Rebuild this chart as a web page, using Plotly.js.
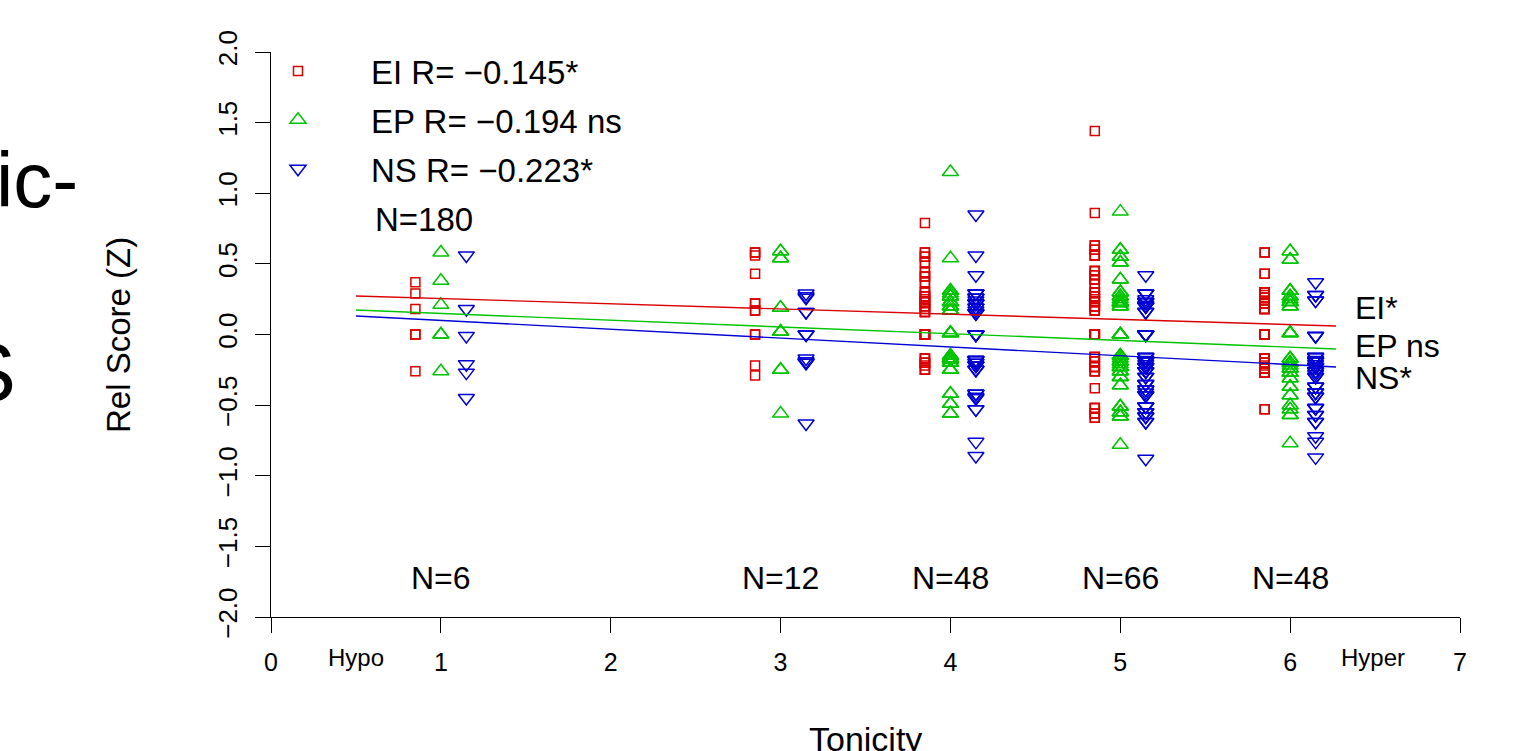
<!DOCTYPE html>
<html><head><meta charset="utf-8">
<script src="https://cdn.plot.ly/plotly-3.0.1.min.js"></script>
<style>html,body{margin:0;padding:0;background:#fff;overflow:hidden}</style>
</head><body><div id="chart" style="width:1520px;height:751px"></div>
<script>
// ---------- data ----------
const tonicity = [1, 3, 4, 5, 6];
const groupN = ['N=6', 'N=12', 'N=48', 'N=66', 'N=48'];
const totalN = 'N=180';

const ei_t1 = [0.37, 0.29, 0.18, 0.0, 0.0, -0.26];
const ei_t3 = [0.58, 0.58, 0.56, 0.43, 0.22, 0.22, 0.17, 0.17, 0.0, 0.0, -0.22, -0.29];
const ei_t4 = [0.79, 0.58, 0.58, 0.55, 0.55, 0.51, 0.51, 0.44, 0.44, 0.41, 0.41, 0.37, 0.37,
  0.30, 0.30, 0.30, 0.27, 0.27, 0.27, 0.23, 0.23, 0.23, 0.23, 0.20, 0.20, 0.20, 0.16, 0.16, 0.16,
  0.0, 0.0, 0.0, 0.0, 0.0, 0.0, 0.0, -0.17, -0.17, -0.17, -0.20, -0.20, -0.20, -0.25, -0.25, -0.25,
  -0.22, 0.25, 0.18];
const ei_t5 = [1.44, 0.86, 0.63, 0.63, 0.60, 0.60, 0.56, 0.56, 0.56, 0.45, 0.45, 0.45, 0.42, 0.42,
  0.39, 0.39, 0.39, 0.36, 0.36, 0.30, 0.30, 0.30, 0.30, 0.27, 0.27, 0.27, 0.27, 0.23, 0.23, 0.23, 0.23,
  0.20, 0.20, 0.20, 0.20, 0.17, 0.17, 0.17, 0.0, 0.0, 0.0, 0.0, 0.0, 0.0, 0.0,
  -0.16, -0.16, -0.16, -0.19, -0.19, -0.19, -0.23, -0.23, -0.23, -0.26, -0.26, -0.26,
  -0.38, -0.52, -0.52, -0.52, -0.56, -0.56, -0.59, -0.59, 0.25];
const ei_t6 = [0.58, 0.58, 0.43, 0.43, 0.30, 0.30, 0.30, 0.30, 0.26, 0.26, 0.26, 0.26,
  0.22, 0.22, 0.22, 0.22, 0.18, 0.18, 0.18, 0.18, 0.0, 0.0, 0.0, 0.0, 0.0, 0.0, 0.0,
  -0.17, -0.17, -0.17, -0.17, -0.20, -0.20, -0.20, -0.20, -0.24, -0.24, -0.24, -0.24,
  -0.27, -0.27, -0.27, -0.27, -0.53, -0.53, 0.24, -0.22, 0.28];

const ep_t1 = [0.58, 0.38, 0.21, 0.0, 0.0, -0.26];
const ep_t3 = [0.59, 0.59, 0.54, 0.54, 0.19, 0.19, 0.02, 0.02, 0.02, -0.25, -0.25, -0.56];
const ep_t4 = [1.15, 0.54, 0.31, 0.31, 0.31, 0.27, 0.27, 0.27, 0.27, 0.23, 0.23, 0.23, 0.23,
  0.20, 0.20, 0.20, 0.20, 0.17, 0.17, 0.17, 0.01, 0.01, 0.01, 0.01, 0.01, 0.01,
  -0.15, -0.15, -0.15, -0.17, -0.17, -0.17, -0.17, -0.20, -0.20, -0.20, -0.20, -0.25, -0.25, -0.25,
  -0.42, -0.42, -0.49, -0.49, -0.56, -0.56, 0.29, -0.18];
const ep_t5 = [0.87, 0.60, 0.60, 0.55, 0.55, 0.51, 0.51, 0.39, 0.39, 0.30, 0.30, 0.30, 0.30,
  0.27, 0.27, 0.27, 0.27, 0.23, 0.23, 0.23, 0.23, 0.23, 0.20, 0.20, 0.20, 0.20,
  0.0, 0.0, 0.0, 0.0, 0.0, 0.0, 0.0, -0.15, -0.15, -0.15, -0.15, -0.19, -0.19, -0.19, -0.19,
  -0.23, -0.23, -0.23, -0.23, -0.26, -0.26, -0.26, -0.30, -0.30, -0.30, -0.36, -0.36,
  -0.51, -0.51, -0.51, -0.55, -0.55, -0.55, -0.58, -0.58, -0.78, 0.25, -0.21, -0.17, 0.22];
const ep_t6 = [0.59, 0.59, 0.53, 0.53, 0.31, 0.31, 0.31, 0.27, 0.27, 0.27, 0.23, 0.23, 0.23,
  0.20, 0.20, 0.20, 0.01, 0.01, 0.01, 0.01, 0.01, -0.17, -0.17, -0.17, -0.20, -0.20, -0.20,
  -0.24, -0.24, -0.24, -0.27, -0.27, -0.27, -0.31, -0.31, -0.37, -0.37, -0.43, -0.43,
  -0.50, -0.50, -0.53, -0.53, -0.57, -0.57, -0.77, 0.25, -0.22];

const ns_t1 = [0.56, 0.18, -0.01, -0.21, -0.27, -0.45];
const ns_t3 = [0.29, 0.27, 0.26, 0.16, 0.16, 0.0, 0.0, -0.17, -0.19, -0.20, -0.20, -0.63];
const ns_t4 = [0.85, 0.56, 0.42, 0.29, 0.29, 0.29, 0.26, 0.26, 0.26, 0.22, 0.22, 0.22, 0.22,
  0.19, 0.19, 0.19, 0.15, 0.15, 0.15, 0.0, 0.0, 0.0, 0.0, 0.0,
  -0.18, -0.18, -0.18, -0.18, -0.22, -0.22, -0.22, -0.25, -0.25, -0.25,
  -0.42, -0.42, -0.42, -0.45, -0.45, -0.53, -0.53, -0.76, -0.86, 0.24, -0.20, -0.20, 0.17, -0.44];
const ns_t5 = [0.42, 0.29, 0.29, 0.29, 0.23, 0.23, 0.23, 0.23, 0.20, 0.20, 0.20, 0.20,
  0.16, 0.16, 0.16, 0.0, 0.0, 0.0, 0.0, 0.0, 0.0,
  -0.16, -0.16, -0.16, -0.16, -0.19, -0.19, -0.19, -0.19, -0.23, -0.23, -0.23, -0.23,
  -0.26, -0.26, -0.26, -0.26, -0.30, -0.30, -0.30, -0.35, -0.35, -0.35, -0.39, -0.39, -0.39,
  -0.43, -0.43, -0.43, -0.51, -0.51, -0.51, -0.55, -0.55, -0.55, -0.58, -0.58, -0.58,
  -0.62, -0.62, -0.88, 0.21, -0.18, -0.21, -0.41, 0.25];
const ns_t6 = [0.37, 0.28, 0.28, 0.24, 0.24, -0.01, -0.01, -0.01,
  -0.16, -0.16, -0.16, -0.16, -0.19, -0.19, -0.19, -0.19, -0.23, -0.23, -0.23, -0.23,
  -0.26, -0.26, -0.26, -0.30, -0.30, -0.30, -0.37, -0.37, -0.37, -0.41, -0.41, -0.41,
  -0.44, -0.44, -0.44, -0.52, -0.52, -0.52, -0.57, -0.57, -0.62, -0.62, -0.72, -0.76, -0.87,
  -0.21, -0.28, -0.18];

const seriesNames = ['EI R= \u22120.145*', 'EP R= \u22120.194 ns', 'NS R= \u22120.223*'];
const fitLabels = ['EI*', 'EP ns', 'NS*'];
const fitX = [0.5, 6.27];
const ei_fit = [0.273, 0.060];
const ep_fit = [0.173, -0.103];
const ns_fit = [0.131, -0.230];

const xTickVals = [0, 1, 2, 3, 4, 5, 6, 7];
const yTickVals = [-2, -1.5, -1, -0.5, 0, 0.5, 1, 1.5, 2];
const endLabels = ['Hypo', 'Hyper'];
const xTitle = 'Tonicity';
const yTitle = 'Rel Score (Z)';

// ---------- styling ----------
const FONT = 'Liberation Sans, Arial, Helvetica, sans-serif';
const NARROW = 'Liberation Sans Narrow, Arial Narrow, Liberation Sans, Arial, sans-serif';
const colors = ['#DA0000', '#00C400', '#0000D4'];
const symbols = ['square-open', 'triangle-up-open', 'triangle-down-open'];
const sizes = [9, 14, 14];
const offsets = [-0.15, 0, 0.15];

const seriesData = [
  [ei_t1, ei_t3, ei_t4, ei_t5, ei_t6],
  [ep_t1, ep_t3, ep_t4, ep_t5, ep_t6],
  [ns_t1, ns_t3, ns_t4, ns_t5, ns_t6]
];
const fits = [ei_fit, ep_fit, ns_fit];

const traces = [];
seriesData.forEach((groups, s) => {
  const xs = [], ys = [];
  groups.forEach((vals, g) => {
    vals.forEach(v => { xs.push(tonicity[g] + offsets[s]); ys.push(v); });
  });
  traces.push({
    type: 'scatter', mode: 'markers', x: xs, y: ys, name: seriesNames[s], legendgroup: 'g' + s,
    marker: { symbol: symbols[s], size: sizes[s], color: colors[s], line: { width: 1.5, color: colors[s] } },
    cliponaxis: false, hoverinfo: 'skip'
  });
});
fits.forEach((f, s) => {
  traces.push({
    type: 'scatter', mode: 'lines', x: fitX, y: f, showlegend: false, legendgroup: 'g' + s,
    line: { color: colors[s], width: 1.4 }, hoverinfo: 'skip'
  });
});

const px2x = px => (px - 271) / 1189;
const px2y = py => (617 - py) / 565;
const ann = (o) => Object.assign({ showarrow: false, xanchor: 'center', yanchor: 'middle' }, o);

const annotations = [];
tonicity.forEach((t, i) => annotations.push(ann({
  x: t, y: px2y(578), xref: 'x', yref: 'paper', text: groupN[i],
  font: { family: FONT, size: 32, color: '#000' }
})));
annotations.push(ann({ x: px2x(373), y: px2y(219), xref: 'paper', yref: 'paper',
  xanchor: 'left', text: totalN, font: { family: FONT, size: 33, color: '#000' } }));
const fitLabelY = [308, 346, 378];
fitLabels.forEach((t, i) => annotations.push(ann({
  x: px2x(1353), y: px2y(fitLabelY[i]), xref: 'paper', yref: 'paper',
  xanchor: 'left', text: t, font: { family: FONT, size: 32, color: '#000' }
})));
const endX = [0.5, 6.49];
endLabels.forEach((t, i) => annotations.push(ann({
  x: endX[i], y: px2y(657), xref: 'x', yref: 'paper', text: t,
  font: { family: NARROW, size: 24, color: '#000' }
})));
annotations.push(ann({ x: 0.5, y: px2y(718), xref: 'paper', yref: 'paper', yanchor: 'top',
  text: xTitle, font: { family: FONT, size: 34, color: '#000' } }));
annotations.push(ann({ x: px2x(118), y: px2y(335), xref: 'paper', yref: 'paper',
  textangle: -90, text: yTitle, font: { family: FONT, size: 33, color: '#000' } }));
// clipped slide text at the left edge
annotations.push(ann({ x: px2x(-6), y: px2y(180), xref: 'paper', yref: 'paper',
  xanchor: 'left', text: 'ic-', font: { family: FONT, size: 78, color: '#000' } }));
annotations.push(ann({ x: px2x(18), y: px2y(372), xref: 'paper', yref: 'paper',
  xanchor: 'right', text: 'S', font: { family: FONT, size: 84, color: '#000' } }));

const layout = {
  width: 1520, height: 751,
  margin: { l: 271, r: 60, t: 52, b: 134, pad: 0 },
  paper_bgcolor: '#fff', plot_bgcolor: '#fff',
  font: { family: FONT, color: '#000' },
  xaxis: {
    range: [0, 7], tickvals: xTickVals, ticktext: xTickVals.map(String),
    ticks: 'outside', ticklen: 15, tickwidth: 1, tickcolor: '#000',
    showline: true, linecolor: '#000', linewidth: 1, zeroline: false, showgrid: false,
    tickfont: { family: NARROW, size: 25, color: '#000' }, ticklabelstandoff: 8
  },
  yaxis: {
    range: [-2, 2], tickvals: yTickVals,
    ticktext: yTickVals.map(v => (v < 0 ? '\u2212' : '') + Math.abs(v).toFixed(1)),
    ticks: 'outside', ticklen: 15, tickwidth: 1, tickcolor: '#000', tickangle: -90,
    showline: true, linecolor: '#000', linewidth: 1, zeroline: false, showgrid: false,
    tickfont: { family: NARROW, size: 26, color: '#000' }, ticklabelstandoff: 8
  },
  showlegend: true,
  legend: {
    x: px2x(225), y: px2y(43), xanchor: 'left', yanchor: 'top',
    bgcolor: 'rgba(0,0,0,0)', borderwidth: 0, itemwidth: 136, traceorder: 'grouped',
    font: { family: FONT, size: 33, color: '#000' }, tracegroupgap: 3
  },
  annotations: annotations
};

Plotly.newPlot('chart', traces, layout, { staticPlot: true, displayModeBar: false });
</script></body></html>
